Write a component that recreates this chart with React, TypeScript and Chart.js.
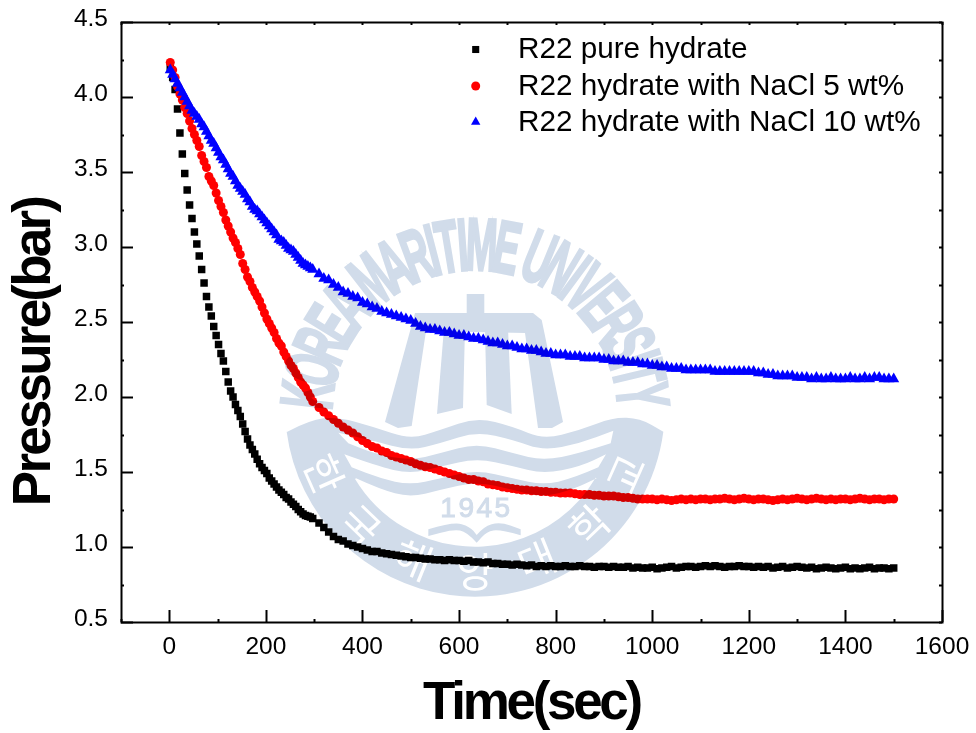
import React, { useEffect, useRef } from "react";
import { Chart, registerables } from "chart.js";
import { drawPoint } from "chart.js/helpers";

Chart.register(...registerables);

const timeSec = [
  2, 7, 12, 17, 22, 27, 32, 37, 42, 47,
  52, 57, 62, 67, 72, 77, 82, 87, 92, 97,
  102, 107, 112, 117, 122, 127, 132, 137, 142, 147,
  152, 157, 162, 167, 172, 177, 182, 187, 192, 197,
  202, 207, 212, 217, 222, 227, 232, 237, 242, 247,
  252, 257, 262, 267, 272, 277, 282, 287, 292, 297,
  310, 320, 330, 340, 350, 360, 370, 380, 390, 400,
  410, 420, 430, 440, 450, 460, 470, 480, 490, 500,
  510, 520, 530, 540, 550, 560, 570, 580, 590, 600,
  610, 620, 630, 640, 650, 660, 670, 680, 690, 700,
  710, 720, 730, 740, 750, 760, 770, 780, 790, 800,
  810, 820, 830, 840, 850, 860, 870, 880, 890, 900,
  910, 920, 930, 940, 950, 960, 970, 980, 990, 1000,
  1010, 1020, 1030, 1040, 1050, 1060, 1070, 1080, 1090, 1100,
  1110, 1120, 1130, 1140, 1150, 1160, 1170, 1180, 1190, 1200,
  1210, 1220, 1230, 1240, 1250, 1260, 1270, 1280, 1290, 1300,
  1310, 1320, 1330, 1340, 1350, 1360, 1370, 1380, 1390, 1400,
  1410, 1420, 1430, 1440, 1450, 1460, 1470, 1480, 1490, 1500,
];

const pureHydrate = [
  4.2, 4.13, 4.05, 3.92, 3.76, 3.62, 3.49, 3.38, 3.28, 3.19,
  3.1, 3.02, 2.94, 2.85, 2.76, 2.67, 2.6, 2.54, 2.47, 2.41,
  2.35, 2.29, 2.24, 2.17, 2.1, 2.04, 2.0, 1.95, 1.91, 1.87,
  1.82, 1.77, 1.72, 1.68, 1.65, 1.62, 1.585, 1.555, 1.53, 1.51,
  1.49, 1.46, 1.44, 1.42, 1.4, 1.38, 1.365, 1.35, 1.33, 1.32,
  1.3, 1.285, 1.27, 1.25, 1.235, 1.22, 1.21, 1.205, 1.2, 1.19,
  1.16, 1.13, 1.1, 1.07, 1.05, 1.04, 1.02, 1.01, 1.0, 0.99,
  0.98, 0.97, 0.97, 0.96, 0.955, 0.95, 0.945, 0.94, 0.935, 0.93,
  0.93, 0.925, 0.92, 0.92, 0.915, 0.915, 0.91, 0.915, 0.91, 0.91,
  0.905, 0.91, 0.9, 0.9, 0.895, 0.9, 0.89, 0.89, 0.885, 0.885,
  0.88, 0.885, 0.88, 0.875, 0.88, 0.87, 0.875, 0.87, 0.875, 0.87,
  0.87, 0.875, 0.87, 0.87, 0.875, 0.87, 0.87, 0.865, 0.87, 0.87,
  0.865, 0.87, 0.865, 0.865, 0.87, 0.86, 0.865, 0.86, 0.86, 0.865,
  0.855, 0.86, 0.865, 0.87, 0.86, 0.865, 0.87, 0.87, 0.865, 0.87,
  0.875, 0.87, 0.875, 0.87, 0.865, 0.87, 0.87, 0.875, 0.87, 0.87,
  0.865, 0.87, 0.865, 0.87, 0.86, 0.865, 0.87, 0.86, 0.865, 0.87,
  0.865, 0.86, 0.865, 0.855, 0.86, 0.865, 0.86, 0.855, 0.86, 0.865,
  0.855, 0.86, 0.855, 0.86, 0.865, 0.855, 0.86, 0.86, 0.855, 0.86,
];

const nacl5 = [
  4.23, 4.18, 4.13, 4.07, 4.02, 3.98, 3.93, 3.89, 3.84, 3.79,
  3.75, 3.71, 3.67, 3.61, 3.57, 3.53, 3.47, 3.44, 3.41, 3.36,
  3.31, 3.27, 3.23, 3.18, 3.14, 3.1, 3.06, 3.03, 2.99, 2.95,
  2.89, 2.85, 2.8, 2.77, 2.73, 2.7, 2.67, 2.64, 2.6, 2.56,
  2.52, 2.49, 2.46, 2.43, 2.39, 2.36, 2.34, 2.3, 2.27, 2.24,
  2.21, 2.19, 2.16, 2.13, 2.1, 2.08, 2.06, 2.03, 2.0, 1.97,
  1.93, 1.9, 1.875, 1.85, 1.825, 1.8, 1.78, 1.76, 1.735, 1.71,
  1.69, 1.67, 1.66, 1.64, 1.63, 1.61, 1.6, 1.59, 1.58, 1.57,
  1.555, 1.545, 1.535, 1.53, 1.52, 1.51, 1.5, 1.49, 1.48, 1.47,
  1.46, 1.45, 1.45, 1.44, 1.435, 1.42, 1.415, 1.41, 1.4, 1.395,
  1.39, 1.385, 1.38, 1.38, 1.375, 1.375, 1.37, 1.37, 1.365, 1.365,
  1.36, 1.36, 1.36, 1.355, 1.35, 1.35, 1.35, 1.345, 1.345, 1.34,
  1.34, 1.34, 1.335, 1.33, 1.33, 1.325, 1.32, 1.32, 1.32, 1.32,
  1.315, 1.32, 1.315, 1.31, 1.315, 1.32, 1.315, 1.32, 1.315, 1.32,
  1.32, 1.315, 1.32, 1.32, 1.325, 1.32, 1.315, 1.32, 1.325, 1.32,
  1.315, 1.32, 1.32, 1.315, 1.31, 1.315, 1.32, 1.315, 1.32, 1.325,
  1.32, 1.315, 1.32, 1.325, 1.32, 1.315, 1.32, 1.315, 1.32, 1.32,
  1.315, 1.32, 1.325, 1.32, 1.315, 1.32, 1.32, 1.315, 1.32, 1.32,
];

const nacl10 = [
  4.18, 4.15, 4.12, 4.09, 4.06, 4.03, 4.0, 3.97, 3.94, 3.91,
  3.89, 3.87, 3.85, 3.82, 3.8, 3.77, 3.74, 3.71, 3.69, 3.66,
  3.63, 3.6, 3.58, 3.55, 3.52, 3.49, 3.47, 3.44, 3.41, 3.39,
  3.37, 3.35, 3.32, 3.3, 3.27, 3.25, 3.24, 3.22, 3.2, 3.18,
  3.16, 3.14, 3.12, 3.1, 3.08, 3.05, 3.04, 3.03, 3.01, 2.99,
  2.98, 2.97, 2.95, 2.93, 2.91, 2.89, 2.88, 2.87, 2.86, 2.85,
  2.82, 2.79, 2.78, 2.75, 2.73, 2.7, 2.69, 2.67, 2.66, 2.63,
  2.62, 2.6, 2.59, 2.57, 2.56, 2.55, 2.54, 2.53, 2.52, 2.51,
  2.49, 2.47, 2.46, 2.45, 2.45, 2.44, 2.43, 2.43, 2.42, 2.41,
  2.41, 2.4, 2.39, 2.39, 2.38, 2.37, 2.36, 2.36, 2.35, 2.34,
  2.34, 2.33, 2.32, 2.32, 2.31, 2.31, 2.3, 2.29, 2.29, 2.28,
  2.28, 2.28, 2.27, 2.27, 2.27, 2.26, 2.26, 2.26, 2.26, 2.25,
  2.25, 2.24, 2.24, 2.24, 2.23, 2.23, 2.23, 2.22, 2.22, 2.21,
  2.21, 2.2, 2.2, 2.19, 2.19, 2.19, 2.18, 2.18, 2.18, 2.18,
  2.18, 2.18, 2.17, 2.17, 2.17, 2.17, 2.17, 2.17, 2.17, 2.17,
  2.17, 2.16, 2.16, 2.15, 2.15, 2.14, 2.14, 2.14, 2.14, 2.13,
  2.13, 2.13, 2.12, 2.13, 2.12, 2.12, 2.13, 2.12, 2.12, 2.12,
  2.13, 2.12, 2.12, 2.13, 2.12, 2.13, 2.13, 2.12, 2.12, 2.12,
];

const seriesLabels = ["R22 pure hydrate", "R22 hydrate with NaCl 5 wt%", "R22 hydrate with NaCl 10 wt%"];
const xTitle = "Time(sec)";
const yTitle = "Pressure(bar)";
const sealOuterText = "KOREA MARITIME UNIVERSITY";
const sealInnerText = "한국해양대학교";
const sealYear = "1945";

const SEAL = "#d1dcea";
const FONT = '"Liberation Sans", Arial, sans-serif';

function smooth(ctx: CanvasRenderingContext2D, pts: number[][], start: boolean) {
  if (start) ctx.moveTo(pts[0][0], pts[0][1]);
  else ctx.lineTo(pts[0][0], pts[0][1]);
  for (let i = 1; i < pts.length - 1; i++) {
    const mx = (pts[i][0] + pts[i + 1][0]) / 2;
    const my = (pts[i][1] + pts[i + 1][1]) / 2;
    ctx.quadraticCurveTo(pts[i][0], pts[i][1], mx, my);
  }
  const l = pts[pts.length - 1];
  ctx.lineTo(l[0], l[1]);
}

const z = (list: number[][]) => list.map(([x, y]) => [x / 3 + 280, y / 3 + 410]);

function drawSeal(ctx: CanvasRenderingContext2D) {
  const cx = 475;
  const cy = 406.7;
  ctx.fillStyle = SEAL;
  ctx.beginPath();
  smooth(ctx, z([[22, 65], [90, 30], [170, 20], [280, 50], [390, 88], [480, 60], [590, 22], [700, 50], [790, 88], [900, 60], [1000, 22], [1080, 25], [1150, 65]]), true);
  ctx.arc(cx, cy, 190, Math.atan2(25, 188), Math.PI - Math.atan2(25, 188), false);
  ctx.closePath();
  ctx.fill();
  ctx.fillStyle = "#fff";
  ctx.beginPath();
  smooth(ctx, z([[175, 68], [280, 92], [390, 122], [480, 100], [590, 65], [700, 90], [790, 122], [900, 100], [1000, 62]]), true);
  smooth(ctx, z([[992, 100], [900, 130], [790, 152], [700, 130], [590, 100], [480, 130], [390, 152], [280, 130], [205, 100]]), false);
  ctx.closePath();
  ctx.fill();
  ctx.beginPath();
  smooth(ctx, z([[193, 133], [290, 168], [390, 192], [480, 170], [590, 145], [700, 168], [790, 192], [900, 170], [978, 133]]), true);
  smooth(ctx, z([[955, 172], [880, 205], [790, 225], [700, 205], [590, 180], [480, 205], [390, 225], [300, 205], [215, 172]]), false);
  ctx.closePath();
  ctx.fill();
  ctx.beginPath();
  const lowerEdge = z([[228, 205], [300, 238], [390, 262], [480, 240], [590, 215], [700, 240], [790, 262], [880, 238], [950, 205]]);
  smooth(ctx, lowerEdge, true);
  const r = lowerEdge[lowerEdge.length - 1];
  const a1 = Math.atan2(r[1] - cy, r[0] - cx);
  const l0 = lowerEdge[0];
  const a2 = Math.atan2(l0[1] - cy, l0[0] - cx);
  ctx.arc(cx, cy, 140, a1, a2, false);
  ctx.closePath();
  ctx.fill();
  ctx.fillStyle = SEAL;
  ctx.strokeStyle = SEAL;
  ctx.font = `28px ${FONT}`;
  ctx.textAlign = "center";
  ctx.textBaseline = "alphabetic";
  (ctx as any).letterSpacing = "2.5px";
  ctx.lineWidth = 1;
  ctx.fillText(sealYear, 476.5, 517);
  ctx.strokeText(sealYear, 476.5, 517);
  (ctx as any).letterSpacing = "0px";
  ctx.beginPath();
  smooth(ctx, z([[445, 358], [520, 335], [570, 350], [590, 375]]), true);
  smooth(ctx, z([[590, 375], [610, 350], [660, 335], [722, 358]]), false);
  ctx.lineTo(722 / 3 + 280, 376 / 3 + 410);
  smooth(ctx, z([[722, 376], [660, 358], [620, 365], [590, 398]]), false);
  smooth(ctx, z([[590, 398], [560, 365], [520, 358], [445, 378]]), false);
  ctx.closePath();
  ctx.fill();
  const poly = (p: number[][]) => {
    ctx.beginPath();
    p.forEach(([x, y], i) => (i ? ctx.lineTo(x, y) : ctx.moveTo(x, y)));
    ctx.closePath();
    ctx.fill();
  };
  poly([[466.7, 294], [484.3, 294], [484.3, 315], [466.7, 315]]);
  poly([[415, 313], [533, 313], [541.7, 320], [563, 422], [552, 428], [538, 428], [525, 333], [426, 331], [411.7, 426], [398, 428], [385, 422]]);
  poly([[444, 328], [465, 328], [463, 408], [437, 414]]);
  poly([[485, 328], [508, 328], [511.7, 414], [486.7, 405]]);
  const ox = 475;
  const oy = 413;
  const baseR = 143;
  ctx.font = `bold 74px ${FONT}`;
  ctx.textAlign = "center";
  const widths = Array.from(sealOuterText).map((c) => ctx.measureText(c).width);
  const total = widths.reduce((a, b) => a + b, 0);
  const span = (176 * Math.PI) / 180;
  let acc = 0;
  const sx = (span * 186) / total;
  ctx.lineWidth = 3;
  ctx.lineJoin = "miter";
  Array.from(sealOuterText).forEach((c, i) => {
    const mid = acc + widths[i] / 2;
    acc += widths[i];
    const ang = -span / 2 + (mid / total) * span;
    ctx.save();
    ctx.translate(ox + baseR * Math.sin(ang), oy - baseR * Math.cos(ang));
    ctx.rotate(ang);
    ctx.scale(sx, 1);
    ctx.fillText(c, 0, 0);
    ctx.strokeText(c, 0, 0);
    ctx.restore();
  });
  ctx.fillStyle = "#fff";
  ctx.font = `41px "Noto Sans CJK KR", sans-serif`;
  ctx.textBaseline = "middle";
  const chars = Array.from(sealInnerText);
  chars.forEach((c, i) => {
    const ang = ((3 - i) * 22 * Math.PI) / 180;
    ctx.save();
    ctx.translate(cx - 165 * Math.sin(ang), cy + 165 * Math.cos(ang));
    ctx.rotate(ang);
    ctx.fillText(c, 0, 0);
    ctx.restore();
  });
}

const legendRadius: Record<string, number> = { rect: 5, circle: 4.5, triangle: 5.4 };

const framePlugin = {
  id: "originFrame",
  afterDatasetsDraw(chart: any) {
    const { ctx, chartArea: a, scales } = chart;
    ctx.save();
    ctx.strokeStyle = "#000";
    ctx.lineWidth = 2;
    ctx.strokeRect(a.left + 0.5, a.top + 0.5, a.right - a.left, a.bottom - a.top);
    const seg = (x0: number, y0: number, x1: number, y1: number) => {
      ctx.beginPath();
      ctx.moveTo(x0, y0);
      ctx.lineTo(x1, y1);
      ctx.stroke();
    };
    scales.x.ticks.forEach((t: any) => {
      const p = Math.round(scales.x.getPixelForValue(t.value)) + 0.5;
      seg(p, a.bottom, p, a.bottom - (t.label ? 12 : 3));
      seg(p, a.top, p, a.top + 3);
    });
    scales.y.ticks.forEach((t: any) => {
      const p = Math.round(scales.y.getPixelForValue(t.value)) + 0.5;
      seg(a.left, p, a.left + (t.label ? 12 : 3), p);
      seg(a.right, p, a.right - 3, p);
    });
    ctx.fillStyle = "#000";
    ctx.font = `bold 53px ${FONT}`;
    ctx.textAlign = "center";
    ctx.textBaseline = "alphabetic";
    ctx.letterSpacing = "-3.3px";
    ctx.fillText(xTitle, 531.5, 719);
    ctx.letterSpacing = "-2.8px";
    ctx.translate(50, 352);
    ctx.rotate(-Math.PI / 2);
    ctx.fillText(yTitle, 0, 0);
    ctx.restore();
    ctx.save();
    ctx.font = `29.7px ${FONT}`;
    ctx.textAlign = "left";
    ctx.textBaseline = "middle";
    ctx.letterSpacing = "0px";
    const rows = [49.5, 86, 122];
    chart.data.datasets.forEach((d: any, i: number) => {
      ctx.fillStyle = "#000";
      ctx.fillText(d.label, 518, rows[i] + 0.5);
      ctx.fillStyle = d.backgroundColor;
      ctx.strokeStyle = d.backgroundColor;
      ctx.lineWidth = 0;
      drawPoint(ctx, { pointStyle: d.pointStyle, radius: legendRadius[d.pointStyle], rotation: 0, borderWidth: 0 }, 475.7, rows[i]);
    });
    ctx.restore();
  },
  afterDraw(chart: any) {
    const off = document.createElement("canvas");
    off.width = chart.width;
    off.height = chart.height;
    const o = off.getContext("2d") as CanvasRenderingContext2D;
    o.fillStyle = "#fff";
    o.fillRect(0, 0, off.width, off.height);
    drawSeal(o);
    const ctx = chart.ctx;
    ctx.save();
    ctx.globalCompositeOperation = "multiply";
    ctx.drawImage(off, 0, 0);
    ctx.restore();
  },
};

export default function App() {
  const ref = useRef<HTMLCanvasElement>(null);
  useEffect(() => {
    const points = (vals: number[]) => vals.map((y, i) => ({ x: timeSec[i], y }));
    const chart = new Chart(ref.current as HTMLCanvasElement, {
      type: "scatter",
      data: {
        datasets: [
          { label: seriesLabels[0], data: points(pureHydrate), backgroundColor: "#000000", pointStyle: "rect", pointRadius: 5.3, borderWidth: 0, order: 3 },
          { label: seriesLabels[1], data: points(nacl5), backgroundColor: "#ff0000", pointStyle: "circle", pointRadius: 4.5, borderWidth: 0, order: 2 },
          { label: seriesLabels[2], data: points(nacl10), backgroundColor: "#0000ff", pointStyle: "triangle", pointRadius: 6.4, borderWidth: 0, order: 1 },
        ] as any,
      },
      options: {
        animation: false,
        responsive: false,
        layout: { padding: { top: 22, right: 34, left: 0, bottom: 0 } },
        plugins: { legend: { display: false }, tooltip: { enabled: false } },
        scales: {
          x: {
            type: "linear",
            min: -100,
            max: 1600,
            afterFit: (s: any) => { s.height = 111; s.paddingLeft = 0; s.paddingRight = 0; },
            grid: { display: false },
            border: { display: false },
            ticks: {
              stepSize: 100,
              autoSkip: false,
              maxRotation: 0,
              padding: 3,
              color: "#000",
              font: { family: FONT, size: 24.5 },
              callback: (v: any) => (v >= 0 && v % 200 === 0 ? String(v) : ""),
            },
          },
          y: {
            type: "linear",
            min: 0.5,
            max: 4.5,
            afterFit: (s: any) => { s.width = 121; s.paddingTop = 0; s.paddingBottom = 0; },
            grid: { display: false },
            border: { display: false },
            ticks: {
              stepSize: 0.25,
              autoSkip: false,
              padding: 5,
              color: "#000",
              font: { family: FONT, size: 24.5, lineHeight: 0.19 },
              callback: (v: any) => (Math.abs((v * 2) % 1) < 1e-6 ? [Number(v).toFixed(1), ""] : ""),
            },
          },
        },
      } as any,
      plugins: [framePlugin as any],
    });
    return () => chart.destroy();
  }, []);
  return (
    <div style={{ position: "absolute", left: 0, top: 0, width: 976, height: 733, background: "#fff" }}>
      <canvas ref={ref} width={976} height={733} style={{ display: "block" }} />
    </div>
  );
}
